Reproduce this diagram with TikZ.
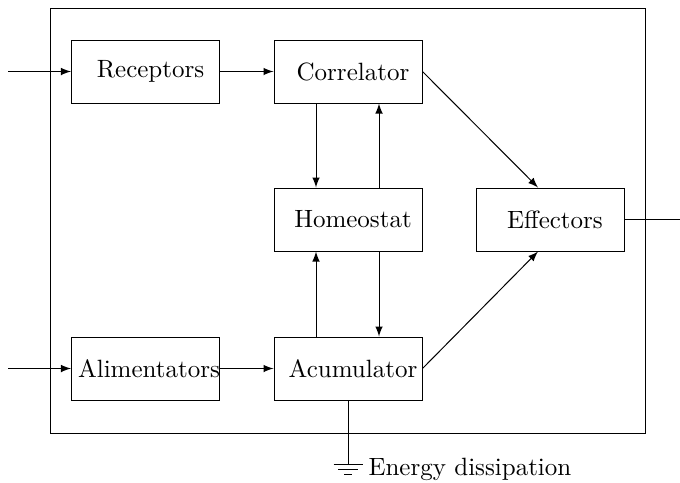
\documentclass[tikz,border=0pt]{standalone}
\usetikzlibrary{arrows}
\tikzset{
  blockbox/.style={draw, minimum width=59.2pt, minimum height=25.2pt, inner sep=0pt},
  blocktext/.style={xshift=2pt, inner sep=0pt},
  flow/.style={-latex}
}
\begin{document}
\begin{tikzpicture}[x=0.4pt, y=-0.4pt]
  \useasboundingbox (0,0) rectangle (680,482);
  % system frame
  \draw (50,8) rectangle (645,433);
  % blocks
  \node[blockbox, label={[blocktext]center:Receptors}] (rec) at (145.5,71.5) {};
  \node[blockbox, label={[blocktext]center:Correlator}] (cor) at (348,71.5) {};
  \node[blockbox, label={[blocktext]center:Homeostat}] (hom) at (348,219.5) {};
  \node[blockbox, label={[blocktext]center:Effectors}] (eff) at (550,219.5) {};
  \node[blockbox, label={[blocktext, xshift=-0.6pt]center:Alimentators}] (ali) at (145.5,368.5) {};
  \node[blockbox, label={[blocktext]center:Acumulator}] (acu) at (348,368.5) {};
  % free ends
  \coordinate (in1) at (8,71.5);
  \coordinate (in2) at (8,368.5);
  \coordinate (out) at (692,219.5);
  \coordinate (gnd) at (348,464);
  \begin{scope}[flow]
    \draw (in1) -- (rec);
    \draw (in2) -- (ali);
    \draw (rec) -- (cor);
    \draw (ali) -- (acu);
    \draw ([xshift=-12.8pt]cor.south) -- ([xshift=-12.8pt]hom.north);
    \draw ([xshift=12.4pt]hom.north) -- ([xshift=12.4pt]cor.south);
    \draw ([xshift=-12.8pt]acu.north) -- ([xshift=-12.8pt]hom.south);
    \draw ([xshift=12.4pt]hom.south) -- ([xshift=12.4pt]acu.north);
    \draw (cor.east) -- ([xshift=-4.8pt]eff.north);
    \draw (acu.east) -- ([xshift=-4.8pt]eff.south);
    \draw (eff) -- (out);
  \end{scope}
  % ground
  \draw (acu.south) -- (gnd);
  \draw ([xshift=-5.8pt]gnd) -- ([xshift=5.8pt]gnd);
  \draw ([xshift=-4pt, yshift=-2pt]gnd) -- ([xshift=4pt, yshift=-2pt]gnd);
  \draw ([xshift=-1.6pt, yshift=-4pt]gnd) -- ([xshift=1.6pt, yshift=-4pt]gnd);
  \node[anchor=base west, inner sep=0pt] (dis) at (368,475) {Energy dissipation};
\end{tikzpicture}
\end{document}
